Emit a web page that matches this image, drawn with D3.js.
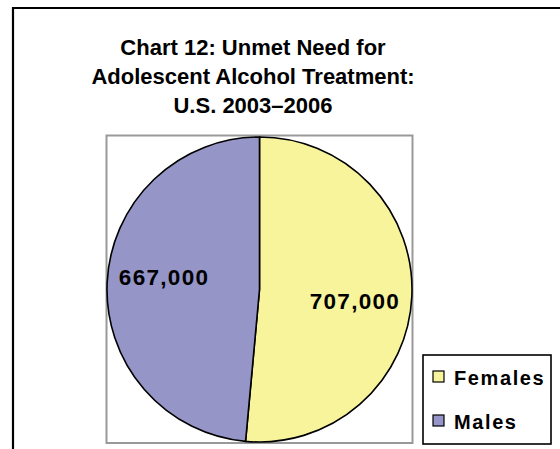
<!DOCTYPE html>
<html><head><meta charset="utf-8">
<script src="https://cdn.jsdelivr.net/npm/d3@7"></script>
<style>html,body{margin:0;padding:0;background:#fff;overflow:hidden}</style>
</head><body>
<svg id="c" width="560" height="449"></svg>
<script>
const titleLines = ["Chart 12: Unmet Need for", "Adolescent Alcohol Treatment:", "U.S. 2003\u20132006"];
const categories = ["Females", "Males"];
const values = [707000, 667000];
const labels = ["707,000", "667,000"];
const colors = ["#F7F49C", "#9595C8"];

const svg = d3.select("#c");
const font = "'Liberation Sans', Arial, sans-serif";

// outer frame (cropped on right/bottom)
svg.append("path").attr("d","M13,449 L13,8 L562,8").attr("fill","none").attr("stroke","#000").attr("stroke-width",2.2);

// title
svg.append("g").selectAll("text").data(titleLines).join("text")
  .attr("x", 253).attr("y",(d,i)=>55+i*29).attr("text-anchor","middle")
  .attr("font-family",font).attr("font-weight","bold").attr("font-size",22).attr("fill","#000")
  .text(d=>d);

// plot area box
svg.append("rect").attr("x",106.5).attr("y",135.5).attr("width",306).attr("height",307.5)
  .attr("fill","none").attr("stroke","#999").attr("stroke-width",2);

const cx = 259.5, cy = 289.5, r = 152.5;
const pie = d3.pie().sort(null).value(d=>d)(values);
const arc = d3.arc().innerRadius(0).outerRadius(r);
const g = svg.append("g").attr("transform",`translate(${cx},${cy})`);
g.selectAll("path").data(pie).join("path")
  .attr("d",arc).attr("fill",(d,i)=>colors[i]).attr("stroke","#000").attr("stroke-width",1.6).attr("stroke-linejoin","round");

const lab = d3.arc().innerRadius(r*0.62).outerRadius(r*0.62);
const labelShift = [[1, 7], [-1, -8]];
g.selectAll("text").data(pie).join("text")
  .attr("transform",(d,i)=>{const c=lab.centroid(d);return `translate(${c[0]+labelShift[i][0]},${c[1]+labelShift[i][1]})`;})
  .attr("text-anchor","middle").attr("dy","0.36em")
  .attr("font-family",font).attr("font-weight","bold").attr("font-size",22.5).attr("letter-spacing",1.3)
  .text((d,i)=>labels[i]);

// legend
const lg = svg.append("g");
lg.append("rect").attr("x",423).attr("y",355).attr("width",128).attr("height",89)
  .attr("fill","#fff").attr("stroke","#000").attr("stroke-width",1.6);
const items = lg.selectAll("g").data(categories).join("g")
  .attr("transform",(d,i)=>`translate(433,${371+i*44})`);
items.append("rect").attr("width",11).attr("height",11).attr("fill",(d,i)=>colors[i]).attr("stroke","#000").attr("stroke-width",1.2);
items.append("text").attr("x",21).attr("y",14).attr("font-family",font).attr("font-weight","bold")
  .attr("font-size",20).attr("letter-spacing",1.6).text(d=>d);
</script>
</body></html>
